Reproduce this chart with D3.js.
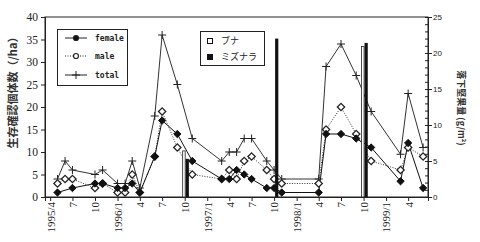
<!DOCTYPE html>
<html>
<head>
<meta charset="utf-8">
<script src="https://cdn.jsdelivr.net/npm/d3@7"></script>
<style>
  body { margin: 0; background: #fff; }
  svg { display: block; }
</style>
</head>
<body>
<div class="chart"></div>
<script>
"use strict";

// survey months and individuals per ha
const months = ["1995/5","1995/6","1995/7","1995/10","1995/11","1996/1","1996/2","1996/3","1996/4",
  "1996/6","1996/7","1996/9","1996/11","1997/3","1997/4","1997/5","1997/6","1997/7","1997/9",
  "1997/10","1997/11","1998/4","1998/5","1998/7","1998/9","1998/11","1999/3","1999/4","1999/6"];
const female = [1, null, 2, 3, 3, 2, 2, 3, 1, 9, 17, 14, 8, 4, 4, 6, 5, 4, 2, 2, 1, 1, 14, 14, 13, 11, 3.5, 12, 2];
const male = [3, 4, 4, 2, 3, 1, 1, 5, 1, 9, 19, 11, 5, 4, 6, 4, 8, 9, 6, 4, 3, 3, 15, 20, 14, 8, 6, 11, 9];
const total = [4, 8, 6, 5, 6, 3, 3, 8, 2, 18, 36, 25, 13, 8, 10, 10, 13, 13, 8, 6, 4, 4, 29, 34, 27, 19, 9.5, 23, 11];

// nut fall g/m2
const nutMonths = ["1996/10", "1997/10", "1998/10"];
const buna = [6.4, 0, 20.9];
const mizunara = [5.3, 22, 21.4];

const tickMonths = ["1995/4","1995/7","1995/10","1996/1","1996/4","1996/7","1996/10","1997/1","1997/4",
  "1997/7","1997/10","1998/1","1998/4","1998/7","1998/10","1999/1","1999/4"];
const leftTicks = [0, 5, 10, 15, 20, 25, 30, 35, 40];
const rightTicks = [0, 5, 10, 15, 20, 25];

const parse = d3.timeParse("%Y/%m");
const width = 480, height = 242;
const plotL = 45, plotR = 428, plotT = 17, plotB = 197;

const svg = d3.select(".chart").append("svg").attr("width", width).attr("height", height);

const x = d3.scaleTime().domain([new Date(1995, 2, 11), new Date(1999, 5, 21)]).range([plotL, plotR]);
const y = d3.scaleLinear().domain([0, 40]).range([plotB, plotT]);
const y2 = d3.scaleLinear().domain([0, 25]).range([plotB, plotT]);

// frame
svg.append("rect").attr("x", plotL).attr("y", plotT).attr("width", plotR - plotL).attr("height", plotB - plotT)
  .attr("fill", "none").attr("stroke", "#222").attr("stroke-width", 1);

// left axis
const gl = svg.append("g").attr("transform", `translate(${plotL},0)`)
  .call(d3.axisLeft(y).tickValues(leftTicks).tickSize(4).tickPadding(3));
gl.selectAll("text").style("font-family", "Liberation Serif").style("font-size", "11.5px").attr("fill", "#222");

// right axis
const gr = svg.append("g").attr("transform", `translate(${plotR},0)`)
  .call(d3.axisRight(y2).tickValues(rightTicks).tickSize(4).tickPadding(1));
gr.selectAll("text").style("font-family", "Liberation Sans").style("font-size", "8px").attr("fill", "#222");
svg.append("g").attr("transform", `translate(${plotR},0)`)
  .call(d3.axisLeft(y2).ticks(25).tickSize(3).tickFormat(""))
  .select(".domain").remove();

// bottom axis
const gb = svg.append("g").attr("transform", `translate(0,${plotB})`)
  .call(d3.axisBottom(x).tickValues(tickMonths.map(parse)).tickSize(4)
    .tickFormat((d, i) => (i === 0 || d.getMonth() === 0) ? d3.timeFormat("%Y/%-m")(d) : d3.timeFormat("%-m")(d)));
gb.selectAll("text").style("font-family", "Liberation Serif").style("font-size", "11px").attr("fill", "#222")
  .attr("text-anchor", "end").attr("transform", "rotate(-90)").attr("x", -5).attr("y", 0).attr("dy", "0.35em");

svg.selectAll(".domain, .tick line").attr("stroke", "#222");

const pts = (vals) => months.map((m, i) => ({ d: parse(m), v: vals[i] })).filter((p) => p.v !== null);
const line = d3.line().x((p) => x(p.d)).y((p) => y(p.v));

const totalPts = pts(total), malePts = pts(male), femalePts = pts(female);

svg.append("path").datum(totalPts).attr("d", line).attr("fill", "none").attr("stroke", "#333").attr("stroke-width", 1);
svg.append("path").datum(malePts).attr("d", line).attr("fill", "none").attr("stroke", "#333")
  .attr("stroke-width", 1).attr("stroke-dasharray", "1,1.5");
svg.append("path").datum(femalePts).attr("d", line).attr("fill", "none").attr("stroke", "#111").attr("stroke-width", 1);

const plus = (cx, cy, s) => `M${cx - s},${cy}H${cx + s}M${cx},${cy - s}V${cy + s}`;
const diamond = d3.symbol().type(d3.symbolDiamond2).size(34);

svg.selectAll(".tot").data(totalPts).enter().append("path")
  .attr("d", (p) => plus(x(p.d), y(p.v), 4)).attr("stroke", "#222").attr("stroke-width", 1);
svg.selectAll(".mal").data(malePts).enter().append("path")
  .attr("transform", (p) => `translate(${x(p.d)},${y(p.v)})`).attr("d", diamond)
  .attr("fill", "#fff").attr("stroke", "#222").attr("stroke-width", 1.3);
svg.selectAll(".fem").data(femalePts).enter().append("path")
  .attr("transform", (p) => `translate(${x(p.d)},${y(p.v)})`).attr("d", diamond)
  .attr("fill", "#111").attr("stroke", "#111");

// nut fall bars
svg.selectAll(".buna").data(nutMonths).enter().append("rect")
  .attr("x", (m) => x(parse(m)) - 2).attr("width", 2.5)
  .attr("y", (m, i) => y2(buna[i])).attr("height", (m, i) => plotB - y2(buna[i]))
  .attr("fill", "#fff").attr("stroke", (m, i) => buna[i] > 0 ? "#222" : "none").attr("stroke-width", 0.8);
svg.selectAll(".mizu").data(nutMonths).enter().append("rect")
  .attr("x", (m) => x(parse(m)) + 1).attr("width", 3.2)
  .attr("y", (m, i) => y2(mizunara[i])).attr("height", (m, i) => plotB - y2(mizunara[i]))
  .attr("fill", "#111");

// legend 1
const lg = svg.append("g");
lg.append("rect").attr("x", 57.5).attr("y", 29.5).attr("width", 70).attr("height", 56)
  .attr("fill", "#fff").attr("stroke", "#222");
const legItems = [
  { name: "female", y: 38, dash: null, mark: "fem" },
  { name: "male", y: 56, dash: "1,1.5", mark: "mal" },
  { name: "total", y: 75, dash: null, mark: "tot" },
];
legItems.forEach((it) => {
  lg.append("line").attr("x1", 65).attr("x2", 87).attr("y1", it.y).attr("y2", it.y)
    .attr("stroke", "#222").attr("stroke-dasharray", it.dash);
  if (it.mark === "tot") {
    lg.append("path").attr("d", plus(76, it.y, 4)).attr("stroke", "#222");
  } else {
    lg.append("circle").attr("cx", 76).attr("cy", it.y).attr("r", 2.5)
      .attr("fill", it.mark === "fem" ? "#111" : "#fff").attr("stroke", "#222").attr("stroke-width", 1.2);
  }
  lg.append("text").attr("x", 95).attr("y", it.y).attr("dy", "0.35em").text(it.name)
    .style("font-family", "DejaVu Sans Mono").style("font-size", "8px").style("font-weight", "bold").attr("fill", "#222");
});

// legend 2
const lg2 = svg.append("g");
lg2.append("rect").attr("x", 200.5).attr("y", 31.5).attr("width", 64).attr("height", 34)
  .attr("fill", "#fff").attr("stroke", "#222");
[{ name: "ブナ", y: 41, fill: "#fff" }, { name: "ミズナラ", y: 57, fill: "#111" }].forEach((it) => {
  lg2.append("rect").attr("x", 207.5).attr("y", it.y - 2.5).attr("width", 5).attr("height", 5)
    .attr("fill", it.fill).attr("stroke", "#111");
  lg2.append("text").attr("x", 221).attr("y", it.y).attr("dy", "0.35em").text(it.name)
    .style("font-family", "Noto Sans CJK JP").style("font-size", "9px").attr("fill", "#222");
});

// axis titles
svg.append("text").attr("transform", "translate(13,90) rotate(-90)").attr("text-anchor", "middle")
  .attr("dy", "0.35em").text("生存確認個体数（/ha）")
  .style("font-family", "Noto Sans CJK JP").style("font-size", "11px").style("font-weight", "bold").attr("fill", "#333");
svg.append("text").attr("transform", "translate(461,108) rotate(90)").attr("text-anchor", "middle")
  .attr("dy", "0.35em").text("落下堅果量 (g/m²)")
  .style("font-family", "Noto Sans CJK JP").style("font-size", "9px").style("font-weight", "bold").attr("fill", "#333");
</script>
</body>
</html>
